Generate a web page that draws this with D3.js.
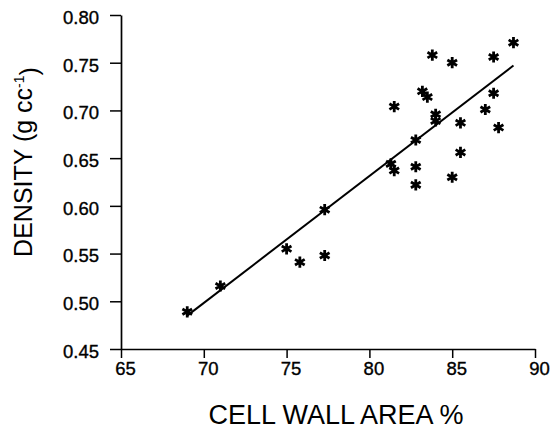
<!DOCTYPE html>
<html>
<head>
<meta charset="utf-8">
<script src="https://cdn.jsdelivr.net/npm/d3@7"></script>
<style>
  html, body { margin: 0; padding: 0; background: #fff; }
  svg { display: block; }
  text { font-family: "Liberation Sans", Arial, Helvetica, sans-serif; fill: #000; }
</style>
</head>
<body>
<svg id="chart" width="553" height="431"></svg>
<script>
// Data
const cellWallArea = [69.0, 71.0, 75.0, 75.8, 77.3, 77.3, 81.3, 81.5, 81.5, 82.8, 82.8, 82.8, 83.2, 83.5, 83.8, 84.0, 84.0, 85.0, 85.0, 85.5, 85.5, 87.0, 87.5, 87.5, 87.8, 88.7];
const density      = [0.489, 0.516, 0.555, 0.541, 0.596, 0.548, 0.644, 0.637, 0.704, 0.669, 0.641, 0.622, 0.720, 0.714, 0.758, 0.696, 0.689, 0.750, 0.630, 0.687, 0.656, 0.701, 0.756, 0.718, 0.682, 0.771];
// Regression line end points
const fitX = [69.0, 88.7];
const fitY = [0.485, 0.747];
// Ticks
const xTicks = [65, 70, 75, 80, 85, 90];
const yTicks = [0.45, 0.50, 0.55, 0.60, 0.65, 0.70, 0.75, 0.80];
const xTitle = "CELL WALL AREA %";

const svg = d3.select("#chart");
const x = d3.scaleLinear().domain([65, 90]).range([121, 535]);
const y = d3.scaleLinear().domain([0.45, 0.80]).range([349, 15]);

// Axes
const xAxis = d3.axisBottom(x).tickValues(xTicks).tickFormat(d3.format("d")).tickSizeInner(9).tickSizeOuter(0).tickPadding(4);
const yAxis = d3.axisLeft(y).tickValues(yTicks).tickFormat(d3.format(".2f")).tickSizeInner(11).tickSizeOuter(0).tickPadding(11);

const gx = svg.append("g").attr("transform", `translate(0,${y(0.45)})`).call(xAxis);
const gy = svg.append("g").attr("transform", `translate(${x(65)},0)`).call(yAxis);

[gx, gy].forEach(g => {
  g.selectAll(".domain").attr("stroke", "#000").attr("stroke-width", 1.7);
  g.selectAll(".tick line").attr("stroke", "#000").attr("stroke-width", 1.5);
  g.selectAll(".tick text").attr("fill", "#000").style("font-size", "18.5px")
    .attr("stroke", "#000").attr("stroke-width", 0.35)
    .style("font-family", "'Liberation Sans', Arial, sans-serif");
});
gx.selectAll(".tick text").attr("dx", 4);
gy.selectAll(".tick text").attr("dy", "0.45em");

// Regression line
const line = d3.line().x(d => x(d[0])).y(d => y(d[1]));
svg.append("path")
  .datum(d3.zip(fitX, fitY))
  .attr("d", line)
  .attr("fill", "none")
  .attr("stroke", "#000")
  .attr("stroke-width", 2);

// Points (asterisks)
const sym = d3.symbol().type(d3.symbolAsterisk).size(88);
svg.append("g").selectAll("path")
  .data(d3.zip(cellWallArea, density))
  .join("path")
  .attr("transform", d => `translate(${x(d[0])},${y(d[1])})`)
  .attr("d", sym)
  .attr("fill", "none")
  .attr("stroke", "#000")
  .attr("stroke-width", 2.8);

// Axis titles
svg.append("text")
  .attr("x", 336).attr("y", 424)
  .attr("text-anchor", "middle")
  .style("font-size", "27px")
  .text(xTitle);

const yt = svg.append("text")
  .attr("transform", "translate(32,162) rotate(-90)")
  .attr("text-anchor", "middle")
  .style("font-size", "25px");
yt.append("tspan").text("DENSITY (g cc");
yt.append("tspan").attr("dy", "-0.55em").style("font-size", "14px").text("-1");
yt.append("tspan").attr("dy", "0.55em").text(")");
</script>
</body>
</html>
